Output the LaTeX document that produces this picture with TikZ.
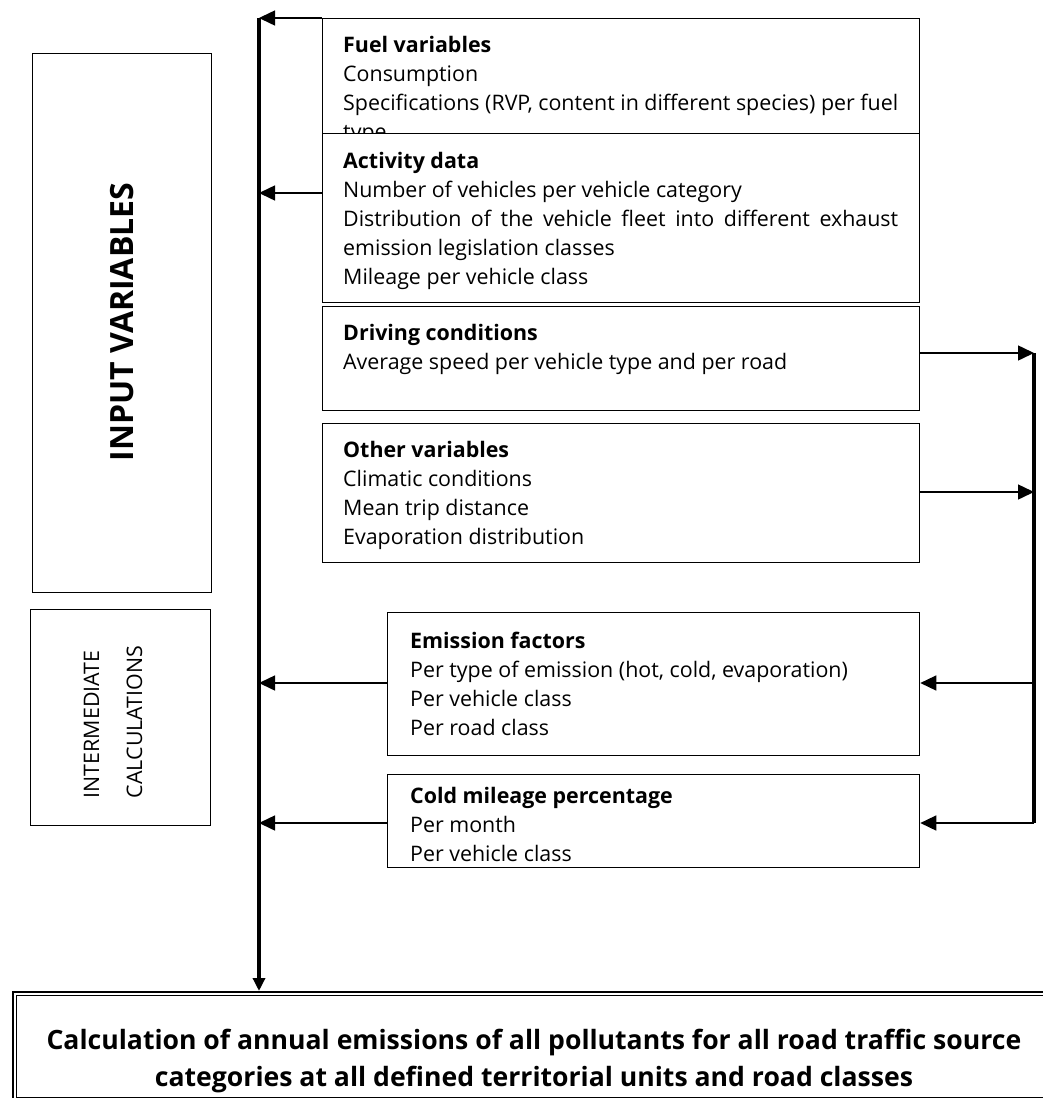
\documentclass[tikz,border=0pt]{standalone}
\usepackage{fontspec}
\setmainfont{Open Sans}
\usetikzlibrary{arrows.meta,calc}
\begin{document}
\begin{tikzpicture}[x=1pt,y=-1pt,
  boxstyle/.style={draw, line width=1.3pt, fill=white, rectangle, inner sep=0pt, anchor=north west},
  txt/.style={anchor=north west, inner sep=0pt, text width=555pt, align=justify, font=\fontsize{21.4}{29}\selectfont},
  arr/.style={line width=1.5pt, -{Triangle[length=16pt,width=15pt]}},
  busline/.style={line width=4pt},
]
\useasboundingbox (0,0) rectangle (1043,1098);
\begin{scope}
\clip (0,0) rectangle (1043,1098);
% side boxes
\node[boxstyle, minimum width=179pt, minimum height=539pt] (inbox) at (32,53) {};
\node[rotate=90, font=\fontsize{32}{38}\selectfont\bfseries] (intxt) at (122,322) {INPUT VARIABLES};
\node[boxstyle, minimum width=180pt, minimum height=216pt] (midbox) at (30,609) {};
\node[rotate=90, align=left, inner sep=0pt, font=\fontsize{21.4}{43}\selectfont] (midtxt) at (113,722) {INTERMEDIATE\\CALCULATIONS};

% fuel
\node[boxstyle, minimum width=597pt, minimum height=125pt] (fuel) at (322,18) {};
\node[txt] (fueltxt) at (343,36.5) {\textbf{Fuel variables}\\Consumption\\Specifications (RVP, content in different species) per fuel type};
% activity
\node[boxstyle, minimum width=597pt, minimum height=169pt] (act) at (322,133) {};
\node[txt] (acttxt) at (343,152.5) {\textbf{Activity data}\\Number of vehicles per vehicle category\\Distribution of the vehicle fleet into different exhaust emission legislation classes\\Mileage per vehicle class};
% driving
\node[boxstyle, minimum width=597pt, minimum height=104pt] (drive) at (322,306) {};
\node[txt] (drivetxt) at (343,324.5) {\textbf{Driving conditions}\\Average speed per vehicle type and per road};
% other
\node[boxstyle, minimum width=597pt, minimum height=139pt] (other) at (322,423) {};
\node[txt] (othertxt) at (343,441.5) {\textbf{Other variables}\\Climatic conditions\\Mean trip distance\\Evaporation distribution};
% emission
\node[boxstyle, minimum width=532pt, minimum height=143pt] (emis) at (387,612) {};
\node[txt, text width=490pt] (emistxt) at (410,632) {\textbf{Emission factors}\\Per type of emission (hot, cold, evaporation)\\Per vehicle class\\Per road class};
% cold
\node[boxstyle, minimum width=532pt, minimum height=93pt] (cold) at (387,774) {};
\node[txt, text width=490pt] (coldtxt) at (410,787.5) {\textbf{Cold mileage percentage}\\Per month\\Per vehicle class};

% bottom box
\node[boxstyle, line width=1.8pt, minimum width=1050pt, minimum height=120pt] (calcout) at (12,991) {};
\node[boxstyle, line width=1.1pt, minimum width=1040pt, minimum height=102pt] (calc) at (16,995) {};
\node[align=center, font=\fontsize{26.6}{37}\selectfont\bfseries] (calctxt) at (534,1061.5) {Calculation of annual emissions of all pollutants for all road traffic source\\categories at all defined territorial units and road classes};

% buses
\coordinate (b1) at (259,18);
\coordinate (b2) at (259,193);
\coordinate (b3) at (259,683);
\coordinate (b4) at (259,823);
\coordinate (r1) at (1034,353);
\coordinate (r2) at (1034,492);
\coordinate (r3) at (1034,683);
\coordinate (r4) at (1034,823);
\draw[busline] (b1) -- (b4);
\draw[busline, -{Triangle[length=13pt,width=12pt]}] (b4) -- (b4 |- calcout.north);
\draw[busline] (r1) -- (r4);

\draw[arr] (fuel.north west) -- (b1);
\draw[arr] (act.west |- b2) -- (b2);
\draw[arr] (emis.west |- b3) -- (b3);
\draw[arr] (cold.west |- b4) -- (b4);
\draw[arr] (drive.east |- r1) -- (r1);
\draw[arr] (other.east |- r2) -- (r2);
\draw[arr] (r3) -- (emis.east |- r3);
\draw[arr] (r4) -- (cold.east |- r4);
\end{scope}
\end{tikzpicture}
\end{document}
